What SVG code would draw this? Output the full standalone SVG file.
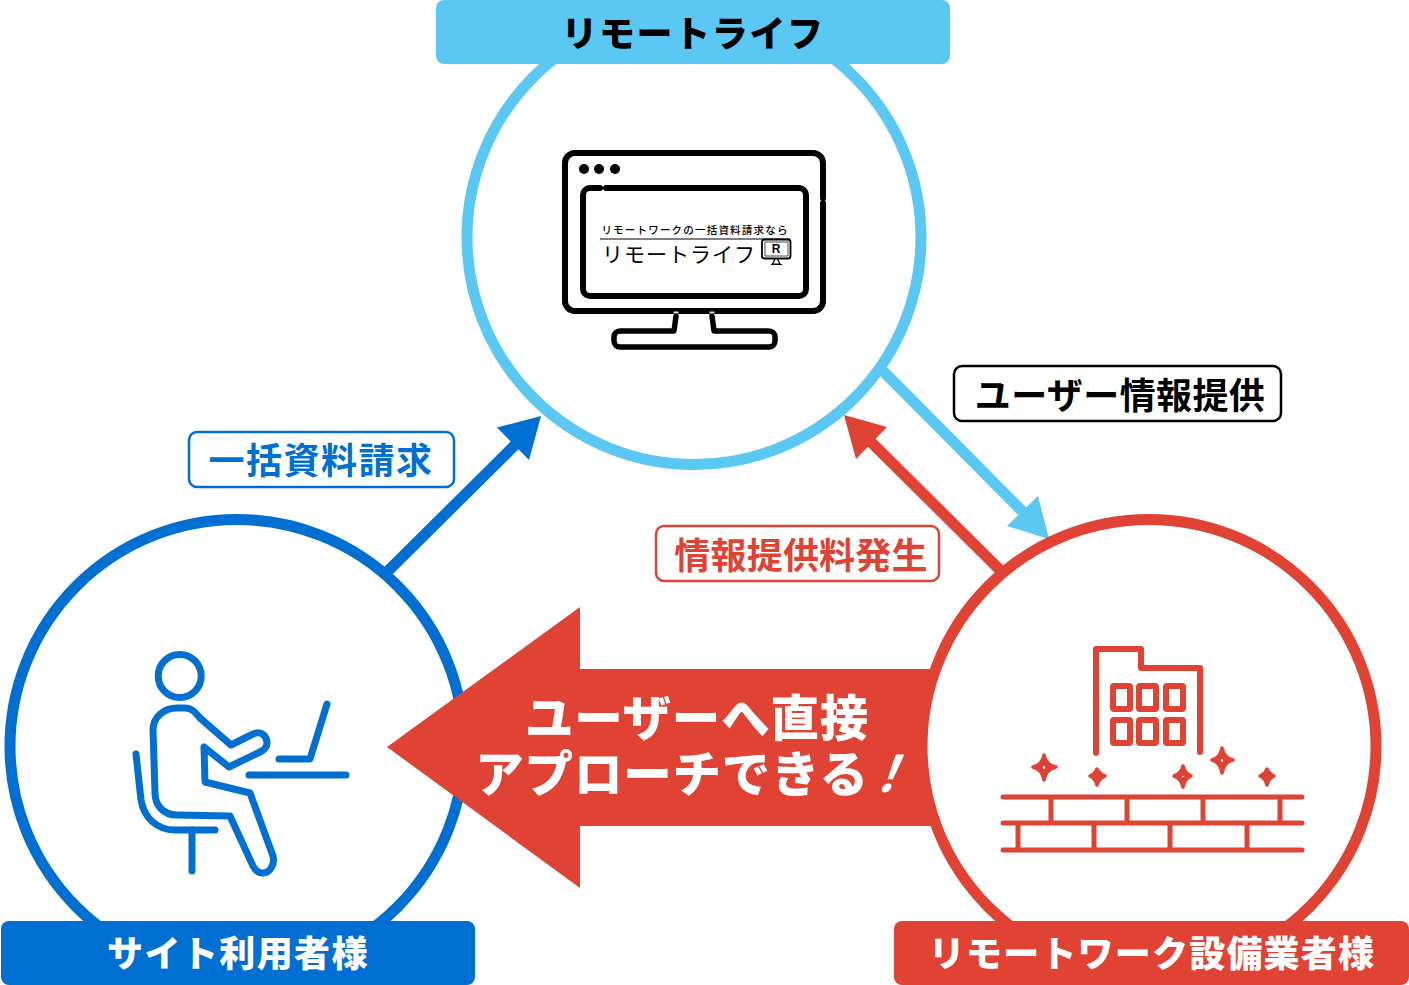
<svg xmlns="http://www.w3.org/2000/svg" width="1409" height="985" viewBox="0 0 1409 985">
<style>
text{font-family:"Noto Sans CJK JP","Noto Sans",sans-serif;text-anchor:middle}
.hd{font-size:36px;font-weight:900;fill:#fff}
.tag{font-size:36px;font-weight:700}
.big{font-size:48.500px;font-weight:900;fill:#fff;letter-spacing:.8px}
.ln{fill:none;stroke-linecap:round;stroke-linejoin:round}
.blue{stroke:#006fd2;stroke-width:7}
.red{stroke:#e04233;stroke-width:6}
.blk{stroke:#000;stroke-width:6}
.ring{fill:#fff;stroke-width:11}
.star{fill:#e04233;stroke:#e04233;stroke-width:3.500;stroke-linejoin:round}
</style>
<rect width="1409" height="985" fill="#fff"/>
<g id="node-remote">
<circle class="ring" cx="694" cy="237.500" r="227" stroke="#5bc8f3"/>
<rect x="436" y="0" width="514" height="64" rx="8" fill="#5bc8f3"/>
<text class="hd" x="693" y="47" style="fill:#000" letter-spacing="1.600">リモートライフ</text>
<g class="ln blk">
<path d="M823 198V163a10 10 0 0 0-10-10H575a10 10 0 0 0-10 10V301a10 10 0 0 0 10 10H813a10 10 0 0 0 10-10V203"/>
<path d="M600 188H590a7 7 0 0 0-7 7V289a7 7 0 0 0 7 7H799a7 7 0 0 0 7-7V195a7 7 0 0 0-7-7H606"/>
<path d="M676 316L674 331H620a6 6 0 0 0-6 6v4a6 6 0 0 0 6 6H769a6 6 0 0 0 6-6v-4a6 6 0 0 0-6-6H714L712 316" stroke-width="5.500"/>
</g>
<path d="M673.500 312.500h5M709.500 312.500h5" stroke="#ddd" stroke-width="2" fill="none"/>
<circle cx="584" cy="169" r="5"/><circle cx="599" cy="169" r="5"/><circle cx="615" cy="169" r="5"/>
<text x="695" y="234" font-size="10.500" font-weight="500" letter-spacing="1.200">リモートワークの一括資料請求なら</text>
<line x1="600" y1="239" x2="790" y2="239" stroke="#000" stroke-width="1.200"/>
<text x="679" y="262" font-size="21" font-weight="400" letter-spacing="1">リモートライフ</text>
<rect x="762" y="239.500" width="28.500" height="19" rx="2.500" fill="none" stroke="#000" stroke-width="1.800"/>
<rect x="765" y="242" width="23" height="14" fill="none" stroke="#000" stroke-width=".7"/>
<text x="776" y="253" font-size="12" font-weight="700" style="font-family:'Liberation Sans',sans-serif">R</text>
<path d="M775 259L772.500 264H780L777.500 259M771 264.500H782" fill="none" stroke="#000" stroke-width="1.200"/>
</g>
<g id="connectors">
<g fill="none" stroke-width="11">
<path d="M387 572L516 444" stroke="#006fd2"/>
<path d="M883 371L1026 515" stroke="#5bc8f3"/>
<path d="M1001 571L868 439" stroke="#e04233"/>
</g>
<path d="M541 416L497 427.500L529 460Z" fill="#006fd2"/>
<path d="M1049 539L1007 526L1038 496Z" fill="#5bc8f3"/>
<path d="M844 415L887 427L856 459Z" fill="#e04233"/>
</g>
<g id="node-user">
<circle class="ring" cx="237" cy="746.500" r="227" stroke="#006fd2"/>
<g class="ln blue">
<circle cx="179.700" cy="676" r="21.500"/>
<path d="M200 718L231 745L253 734C262 730 267 737 267 743C267 748 264 750 260 752L229 767L204 747L205 782L250 793L273 856C275 864 270 873 263 873C258 873 255 870 253 866L230 816L177 815C163 815 155 805 155 793L153 730C153 717 164 708 177 708H185C192 708 196 713 200 718Z"/>
<path d="M136 754L141 800C144 818 157 830 175 830H215"/>
<path d="M192 830V871M249 775H346M279 759H310L327 704"/>
</g>
<rect x="1" y="921" width="474" height="64" rx="8" fill="#006fd2"/>
<text class="hd" x="238" y="967" letter-spacing="1.400">サイト利用者様</text>
</g>
<g id="big-arrow">
<path d="M387 747L580 607V669H960V826H580V888Z" fill="#e04233"/>
<text class="big" x="697" y="736">ユーザーへ直接</text>
<text class="big" x="672" y="792">アプローチできる</text>
<text x="0" y="0" transform="translate(885,792) skewX(-22)" font-size="50" font-weight="700" fill="#fff">！</text>
</g>
<g id="node-vendor">
<circle class="ring" cx="1149" cy="746.500" r="227" stroke="#e04233"/>
<g class="ln red">
<path d="M1096 753V649H1141V668H1200V752"/>
<rect x="1113" y="686" width="17" height="23" rx="1"/><rect x="1139" y="686" width="17" height="23" rx="1"/><rect x="1166" y="686" width="17" height="23" rx="1"/>
<rect x="1113" y="720" width="17" height="23" rx="1"/><rect x="1139" y="720" width="17" height="23" rx="1"/><rect x="1166" y="720" width="17" height="23" rx="1"/>
<path stroke-width="5" d="M1003 797H1302M1003 823H1302M1003 850H1302M1051 797V823M1127 797V823M1203 797V823M1280 797V823M1018 823V850M1094 823V850M1170 823V850M1247 823V850"/>
</g>
<g>
<path class="star" d="M1044 755Q1046 765 1056 767Q1046 769 1044 780Q1042 769 1033 767Q1042 765 1044 755Z"/>
<path class="star" d="M1097 769Q1099 774 1105 776Q1099 778 1097 785Q1095 778 1090 776Q1095 774 1097 769Z"/>
<path class="star" d="M1183 766Q1185 774 1191 776Q1185 778 1183 787Q1181 778 1174 776Q1181 774 1183 766Z"/>
<path class="star" d="M1222 748Q1224 758 1233 760Q1224 762 1222 773Q1220 762 1212 760Q1220 758 1222 748Z"/>
<path class="star" d="M1267 769Q1269 774 1274 776Q1269 778 1267 785Q1265 778 1260 776Q1265 774 1267 769Z"/>
<circle cx="1044" cy="767.500" r="1.200" fill="#fff"/><circle cx="1222" cy="760.500" r="1.200" fill="#fff"/><circle cx="1183" cy="776.500" r=".8" fill="#fff"/>
</g>
<rect x="894" y="921" width="515" height="64" rx="8" fill="#e04233"/>
<text class="hd" x="1152" y="967" letter-spacing="1.200">リモートワーク設備業者様</text>
</g>
<g id="tag-request">
<rect x="189" y="432" width="265" height="55" rx="8" fill="#fff" stroke="#006fd2" stroke-width="2.500"/>
<text class="tag" x="321" y="474" fill="#006fd2" letter-spacing="1.500">一括資料請求</text>
</g>
<g id="tag-provide">
<rect x="954" y="366" width="327" height="55" rx="8" fill="#fff" stroke="#000" stroke-width="2.500"/>
<text class="tag" x="1120" y="409" fill="#000" letter-spacing=".4">ユーザー情報提供</text>
</g>
<g id="tag-fee">
<rect x="656" y="526" width="283" height="55" rx="8" fill="#fff" stroke="#e04233" stroke-width="2.500"/>
<text class="tag" x="801" y="569" fill="#e04233" letter-spacing=".2">情報提供料発生</text>
</g>
</svg>
